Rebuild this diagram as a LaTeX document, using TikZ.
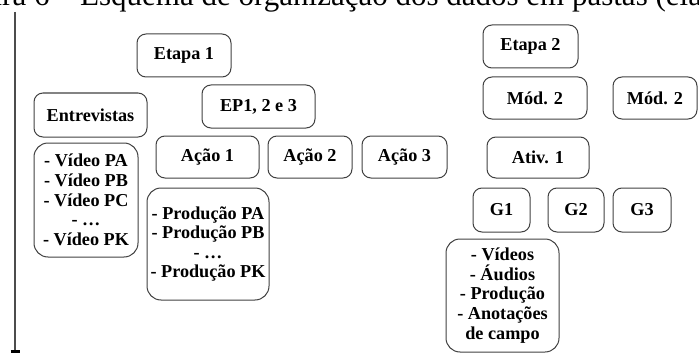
\documentclass[tikz,border=0pt]{standalone}
\usepackage{fontspec}
\setmainfont{Liberation Serif}
\begin{document}
\begin{tikzpicture}[x=1pt,y=-1pt,
  box/.style={draw=black!75, line width=1pt, rounded corners=9pt, inner sep=0pt,
    align=center, font=\fontsize{18.2}{19.6}\selectfont\bfseries},
  listbox/.style={box, rounded corners=14pt},
  caption/.style={inner sep=0pt, font=\fontsize{31}{36}\selectfont}]
\useasboundingbox (0,0) rectangle (699,353);

% caption line, cut off at the top edge
\begin{scope}
  \clip (0,0) rectangle (699,353);
  \node[caption, anchor=base east] (capnum) at (73,6) {Figura 6 –};
  \node[caption, anchor=base west] (captext) at (80,6)
    {Esquema de organização dos dados em pastas (elaboração própria)};
\end{scope}

% time axis on the left
\coordinate (axtop) at (15,12);
\coordinate (axbot) at (15,351);
\draw[line width=1.3pt, black!70] (axtop) -- (axbot);
\draw[line width=3pt] (axbot) ++(-4.5,0) -- ++(9,0);

% stage 1
\node[box, minimum width=94pt,  minimum height=43pt] (etapa1) at (184,55.5) {Etapa 1};
\node[box, minimum width=113pt, minimum height=43pt] (ep)     at (258.5,106.5) {EP1, 2 e 3};
\node[box, minimum width=113pt, minimum height=44pt] (entrev) at (90.5,115) {Entrevistas};
\node[box, minimum width=103pt, minimum height=42pt] (acao1)  at (207.5,157) {Ação 1};
\node[box, minimum width=84pt,  minimum height=42pt] (acao2)  at (310,157) {Ação 2};
\node[box, minimum width=85pt,  minimum height=42pt] (acao3)  at (404.5,157) {Ação 3};
\node[listbox, minimum width=104pt, minimum height=114pt] (videolist) at (86,200)
  {- Vídeo PA\\- Vídeo PB\\- Vídeo PC\\- …\\- Vídeo PK};
\node[listbox, minimum width=122pt, minimum height=112pt] (prodlist) at (208,244)
  {- Produção PA\\- Produção PB\\- …\\- Produção PK};

% stage 2
\node[box, minimum width=95pt,  minimum height=43pt] (etapa2) at (530.5,46.5) {Etapa 2};
\node[box, minimum width=104pt, minimum height=42pt] (moda)   at (535,98) {Mód. 2};
\node[box, minimum width=84pt,  minimum height=42pt] (modb)   at (655,98) {Mód. 2};
\node[box, minimum width=102pt, minimum height=41pt] (ativ1)  at (538,157.5) {Ativ. 1};
\node[box, minimum width=57pt,  minimum height=44pt] (g1)     at (501.5,210) {G1};
\node[box, minimum width=56pt,  minimum height=44pt] (g2)     at (576,210) {G2};
\node[box, minimum width=58pt,  minimum height=44pt] (g3)     at (642,210) {G3};
\node[listbox, minimum width=113pt, minimum height=113pt] (datalist) at (502.5,295.5)
  {- Vídeos\\- Áudios\\- Produção\\- Anotações\\de campo};
\end{tikzpicture}
\end{document}
